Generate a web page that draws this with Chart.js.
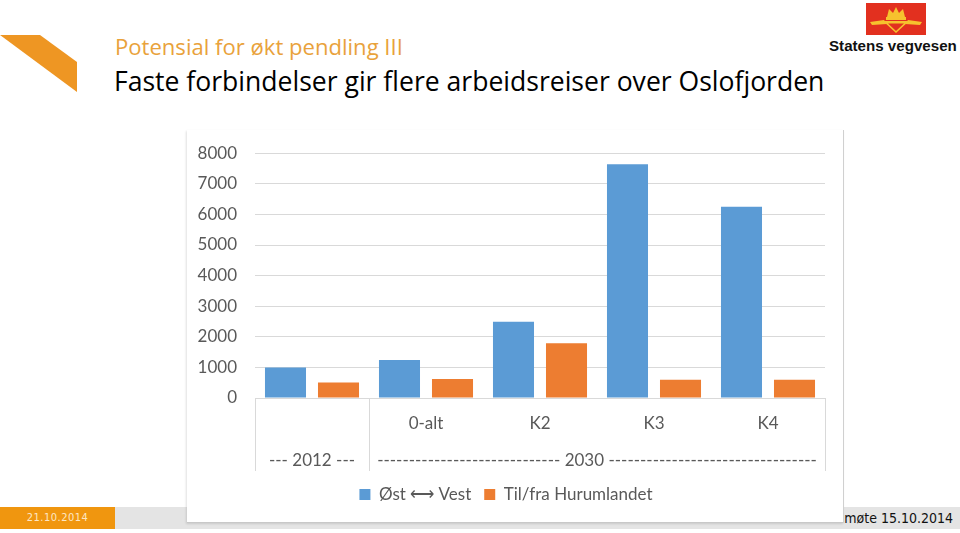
<!DOCTYPE html>
<html>
<head>
<meta charset="utf-8">
<script src="https://cdn.jsdelivr.net/npm/chart.js@4.4.0/dist/chart.umd.min.js"></script>
<style>
  body { margin: 0; width: 960px; height: 533px; background: #fff; position: relative; overflow: hidden; font-family: "Open Sans", sans-serif; }
  .abs { position: absolute; }
  #subtitle { left: 115px; top: 35px; color: #E9A23B; font-size: 20px; white-space: nowrap; line-height: 1; }
  #title { left: 114px; top: 68px; color: #000; font-size: 25px; white-space: nowrap; line-height: 1; }
  #logoText { left: 829px; top: 37px; font-family: "Liberation Sans", sans-serif; font-weight: 900; font-size: 15px; color: #111; white-space: nowrap; }
  #footOrange { left: 0; top: 507px; width: 115px; height: 22px; background: #F0960F; }
  #footGrey { left: 115px; top: 507px; width: 845px; height: 22px; background: #E4E4E4; }
  #footDate { left: 0; top: 507px; width: 115px; height: 22px; line-height: 22px; text-align: center; color: #FDE6C4; font-family: "DejaVu Sans Condensed", sans-serif; font-size: 11px; letter-spacing: 0.5px; }
  #footRight { right: 7px; top: 507px; height: 22px; line-height: 22px; color: #111; font-family: "DejaVu Sans Condensed", sans-serif; font-size: 14px; }
  #chartBox { left: 187px; top: 130px; width: 656px; height: 392px; background: #fff; border-right: 1px solid #d0d0d0; border-bottom: 1px solid #c8c8c8; box-shadow: -1px 1px 2px rgba(0,0,0,0.12); }
  canvas { display: block; margin-top: -5px; }
</style>
</head>
<body>
<svg class="abs" style="left:0;top:0" width="960" height="110">
  <polygon points="0,35 40,35 77,62 77,92" fill="#EE9623"/>
  <rect x="866" y="3" width="60" height="32" fill="#E2301F"/>
  <path d="M887,17 L889,9 L893,13 L896,7 L899,13 L903,9 L905,17 Z" fill="#F6C22E"/>
  <rect x="886" y="17" width="20" height="3" fill="#F6C22E"/>
  <path d="M883,21 L909,21 L896,33 Z M888,23.5 L896,31 L904,23.5 Z" fill="#F6C22E" fill-rule="evenodd"/>
  <path d="M870,22 L884,20 L887,24 L872,25 Z M922,22 L908,20 L905,24 L920,25 Z" fill="#F6C22E"/>
</svg>
<div id="subtitle" class="abs">Potensial for økt pendling III</div>
<div id="title" class="abs">Faste forbindelser gir flere arbeidsreiser over Oslofjorden</div>
<div id="logoText" class="abs">Statens vegvesen</div>
<div id="footOrange" class="abs"></div>
<div id="footGrey" class="abs"></div>
<div id="footDate" class="abs">21.10.2014</div>
<div id="footRight" class="abs">møte 15.10.2014</div>
<div id="chartBox" class="abs">
  <canvas id="travelChart" width="656" height="394"></canvas>
</div>
<script>
const categories = ["", "0-alt", "K2", "K3", "K4"];
const groupLabels = ["--- 2012 ---", "----------------------------- 2030 ---------------------------------"];
const groupSpans = [[0, 0], [1, 4]];
const seriesNames = ["Øst ⟷ Vest", "Til/fra Hurumlandet"];
const ostVest = [1000, 1240, 2490, 7640, 6250];
const hurumlandet = [510, 620, 1790, 600, 600];

// fit the slide titles to the widths in the slide
function fitText(id, targetWidth) {
  const el = document.getElementById(id);
  const size = parseFloat(getComputedStyle(el).fontSize);
  const w = el.getBoundingClientRect().width;
  el.style.fontSize = (size * targetWidth / w) + "px";
}
fitText("subtitle", 288);
fitText("title", 711);
fitText("logoText", 128);

const groupRows = {
  id: "groupRows",
  afterDraw(chart) {
    const ctx = chart.ctx;
    const x = chart.scales.x;
    const step = x.width / categories.length;
    const top = chart.chartArea.bottom;
    ctx.save();
    ctx.strokeStyle = "#d9d9d9";
    ctx.lineWidth = 1;
    ctx.fillStyle = "#595959";
    ctx.font = "17px Lato";
    ctx.textAlign = "center";
    ctx.textBaseline = "middle";
    groupSpans.forEach((span, i) => {
      const left = x.getPixelForValue(span[0]) - step / 2;
      const right = x.getPixelForValue(span[1]) + step / 2;
      [left, right].forEach(px => {
        ctx.beginPath();
        ctx.moveTo(Math.round(px) + 0.5, top);
        ctx.lineTo(Math.round(px) + 0.5, top + 73);
        ctx.stroke();
      });
      ctx.fillText(groupLabels[i], (left + right) / 2, top + 63);
    });
    ctx.restore();
  }
};

Chart.defaults.font.family = "Lato";
Chart.defaults.font.size = 17;
Chart.defaults.color = "#595959";

const travelChart = new Chart(document.getElementById("travelChart"), {
  type: "bar",
  data: {
    labels: categories,
    datasets: [
      {
        label: seriesNames[0],
        data: ostVest,
        backgroundColor: "#5B9BD5",
        barPercentage: 0.774,
        categoryPercentage: 0.93,
      },
      {
        label: seriesNames[1],
        data: hurumlandet,
        backgroundColor: "#ED7D31",
        barPercentage: 0.774,
        categoryPercentage: 0.93,
      },
    ],
  },
  options: {
    responsive: false,
    animation: false,
    layout: {
      padding: { top: 17, right: 18, bottom: 6, left: 0 },
    },
    scales: {
      x: {
        grid: { display: false, drawTicks: false },
        border: { display: false },
        ticks: { padding: 15, maxRotation: 0 },
        afterFit(scale) {
          scale.height = 75;
        },
      },
      y: {
        min: 0,
        max: 8000,
        grid: { color: "#d9d9d9", drawTicks: false },
        border: { display: false },
        ticks: {
          stepSize: 1000,
          padding: 18,
          callback: (value) => String(value),
        },
        afterFit(scale) {
          scale.width = 68;
        },
      },
    },
    plugins: {
      title: { display: false },
      tooltip: { enabled: false },
      legend: {
        position: "bottom",
        labels: {
          boxWidth: 11,
          boxHeight: 11,
          padding: 13,
          color: "#595959",
        },
      },
    },
  },
  plugins: [groupRows],
});
</script>
</body>
</html>
